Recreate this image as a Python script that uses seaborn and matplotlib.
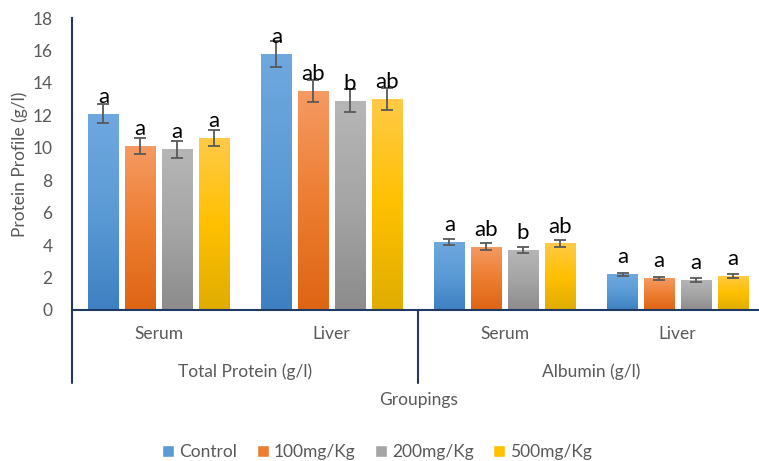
import numpy as np
import pandas as pd
import matplotlib.pyplot as plt
import seaborn as sns
from matplotlib.colors import LinearSegmentedColormap
from matplotlib.patches import Patch

# data
groups = ["Total Protein (g/l)", "Albumin (g/l)"]
samples = ["Serum", "Liver", "Serum", "Liver"]
treatments = ["Control", "100mg/Kg", "200mg/Kg", "500mg/Kg"]

control = [12.1, 15.8, 4.2, 2.2]
mg100 = [10.1, 13.5, 3.9, 1.95]
mg200 = [9.9, 12.9, 3.7, 1.85]
mg500 = [10.6, 13.0, 4.1, 2.1]

control_err = [0.6, 0.8, 0.2, 0.1]
mg100_err = [0.5, 0.7, 0.2, 0.1]
mg200_err = [0.5, 0.7, 0.2, 0.1]
mg500_err = [0.5, 0.7, 0.2, 0.1]

control_sig = ["a", "a", "a", "a"]
mg100_sig = ["a", "ab", "ab", "a"]
mg200_sig = ["a", "b", "b", "a"]
mg500_sig = ["a", "ab", "ab", "a"]

values = [control, mg100, mg200, mg500]
errors = [control_err, mg100_err, mg200_err, mg500_err]
letters = [control_sig, mg100_sig, mg200_sig, mg500_sig]

cat_keys = ["TP-Serum", "TP-Liver", "Alb-Serum", "Alb-Liver"]
rows = []
for t, vals in zip(treatments, values):
    for k, v in zip(cat_keys, vals):
        rows.append({"cat": k, "treatment": t, "value": v})
df = pd.DataFrame(rows)

# Excel-ish gradient colours (top, middle, bottom)
grads = [
    ["#6fa8df", "#5b9bd5", "#3f80c3"],
    ["#f59a62", "#ed7d31", "#de6514"],
    ["#b6b6b6", "#a5a5a5", "#8c8c8c"],
    ["#ffca47", "#ffc000", "#e0ad00"],
]
mid_colors = [g[1] for g in grads]

navy = "#203864"
gray_txt = "#595959"

sns.set_style("white")
plt.rcParams["font.family"] = ["Lato", "DejaVu Sans"]

fig = plt.figure(figsize=(7.59, 4.61), dpi=100)
ax = fig.add_axes([72 / 759, 151 / 461, 687 / 759, 292 / 461])

sns.barplot(data=df, x="cat", y="value", hue="treatment", order=cat_keys,
            hue_order=treatments, palette=mid_colors, width=0.85, gap=0.18,
            errorbar=None, legend=False, ax=ax)

bar_groups = list(ax.containers)
for i, cont in enumerate(bar_groups):
    cmap = LinearSegmentedColormap.from_list("g%d" % i, grads[i][::-1])
    for j, bar in enumerate(cont):
        x0 = bar.get_x()
        w = bar.get_width()
        h = bar.get_height()
        xc = x0 + w / 2
        grad = np.linspace(0, 1, 100).reshape(-1, 1)
        im = ax.imshow(grad, extent=[x0, x0 + w, 0, h], origin="lower",
                       aspect="auto", cmap=cmap, zorder=bar.get_zorder() + 0.1)
        im.set_clip_path(bar)
        ax.errorbar(xc, h, yerr=errors[i][j], fmt="none", ecolor=gray_txt,
                    elinewidth=1.3, capsize=4, capthick=1.3, zorder=5)
        ax.annotate(letters[i][j], (xc, h), xytext=(0, 5),
                    textcoords="offset points", ha="center", va="bottom",
                    fontsize=16, color="black", zorder=6)

ax.set_xlim(-0.5, 3.47)
ax.set_ylim(0, 18)
ax.set_yticks(range(0, 19, 2))
ax.tick_params(axis="y", length=0, labelsize=12.5, labelcolor=gray_txt, pad=14)
ax.set_xticks([])
ax.set_xlabel("")
ax.set_ylabel("Protein Profile (g/l)", fontsize=12.5, color=gray_txt, labelpad=3)

for s in ["top", "right"]:
    ax.spines[s].set_visible(False)
ax.spines["left"].set_color(navy)
ax.spines["left"].set_linewidth(1.5)
ax.spines["bottom"].set_color(navy)
ax.spines["bottom"].set_linewidth(1.5)

# multi-level category axis
tr = ax.get_xaxis_transform()
for xv in [-0.5, 1.5]:
    ax.plot([xv, xv], [0, -0.25], transform=tr, color=navy, lw=1.5,
            clip_on=False)
for k, name in enumerate(samples):
    ax.text(k, -0.082, name, transform=tr, ha="center", va="center",
            fontsize=12.5, color=gray_txt)
for g, name in enumerate(groups):
    ax.text(2 * g + 0.5, -0.212, name, transform=tr, ha="center",
            va="center", fontsize=12.5, color=gray_txt)
fig.text((72 + 687 * (2.0 / 3.97)) / 759, 1 - 400 / 461, "Groupings",
         ha="center", va="center", fontsize=12.5, color=gray_txt)

handles = [Patch(facecolor=c) for c in mid_colors]
fig.legend(handles, treatments, loc="center", bbox_to_anchor=(0.497, 9 / 461),
           ncol=4, frameon=False, handlelength=0.7, handleheight=0.7,
           handletextpad=0.3, columnspacing=1.1, fontsize=12.5,
           labelcolor=gray_txt)

fig.savefig("out.png", dpi=100)
